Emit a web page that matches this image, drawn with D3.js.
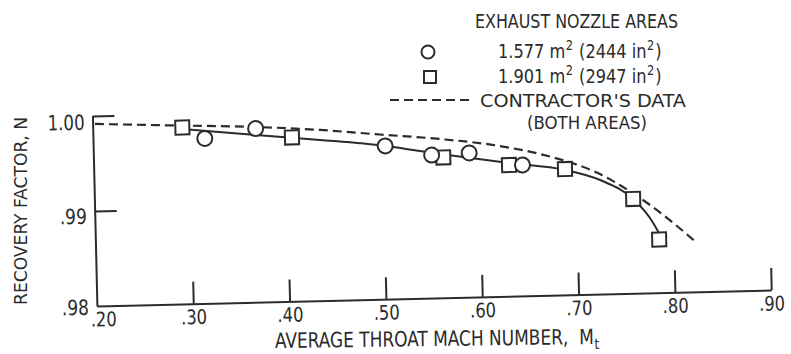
<!DOCTYPE html>
<html>
<head>
<meta charset="utf-8">
<script src="https://cdn.jsdelivr.net/npm/d3@7"></script>
<style>
  html, body { margin: 0; padding: 0; background: #ffffff; }
  svg { display: block; }
  text { font-family: "Liberation Sans Narrow", "DejaVu Sans Condensed", "Roboto Condensed", sans-serif; fill: #2b2b2b; }
</style>
</head>
<body>
<svg id="chart" width="791" height="354"></svg>
<script>
// Recovery factor vs. average throat Mach number
const xTicks = [0.20, 0.30, 0.40, 0.50, 0.60, 0.70, 0.80, 0.90];
const yTicks = [0.98, 0.99, 1.00];

// 1.577 m^2 nozzle (circles)
const circleMach = [0.316, 0.369, 0.503, 0.551, 0.590, 0.645];
const circleN    = [0.99736, 0.99828, 0.99613, 0.99505, 0.99518, 0.99378];

// 1.901 m^2 nozzle (squares)
const squareMach = [0.293, 0.4065, 0.563, 0.631, 0.689, 0.759, 0.785];
const squareN    = [0.99857, 0.99725, 0.99477, 0.99381, 0.99325, 0.98993, 0.98560];

// Faired curve through both nozzle data sets
const fairMach = [0.2926, 0.3692, 0.4355, 0.5028, 0.5597, 0.6311, 0.6890, 0.7251, 0.7590, 0.7760, 0.7850];
const fairN    = [0.99842, 0.99760, 0.99692, 0.99613, 0.99515, 0.99402, 0.99315, 0.99201, 0.98993, 0.98788, 0.98628];

// Contractor's data (both areas)
const contrMach = [0.2024, 0.2854, 0.3694, 0.4358, 0.4979, 0.5600, 0.6222, 0.6635, 0.6965, 0.7252, 0.7488, 0.7764, 0.8242];
const contrN    = [0.99916, 0.99880, 0.99844, 0.99797, 0.99734, 0.99672, 0.99583, 0.99489, 0.99386, 0.99264, 0.99121, 0.98925, 0.98514];

const ink = "#2b2b2b";
const svg = d3.select("#chart");

const x = d3.scaleLinear().domain([0.20, 0.90]).range([94.5, 769]);
const y = d3.scaleLinear().domain([0.98, 1.00]).range([298, 108]);

const fmt = v => d3.format(".2f")(v).replace(/^0\./, ".");

// plot body is drawn slightly tilted, as on the printed sheet
const g = svg.append("g").attr("transform", "rotate(-1.35, 434, 200)");

// x axis: ticks point up into the plot, labels underneath
const xAxis = d3.axisBottom(x).tickValues(xTicks).tickFormat(fmt)
  .tickSize(-22).tickSizeOuter(0).tickPadding(6);
const gx = g.append("g").attr("transform", `translate(0,${y(0.98)})`).call(xAxis);
gx.select(".domain").attr("stroke", ink).attr("stroke-width", 2);
gx.selectAll(".tick line").attr("stroke", ink).attr("stroke-width", 2)
  .filter(d => d === 0.20).remove();
gx.selectAll(".tick text").attr("font-size", 20).attr("fill", ink)
  .attr("dy", "0.72em")
  .attr("dx", d => d === 0.20 ? 6 : 0)
  .attr("textLength", 26).attr("lengthAdjust", "spacingAndGlyphs");

// y axis: ticks point right into the plot
const yAxis = d3.axisLeft(y).tickValues(yTicks).tickFormat(fmt)
  .tickSize(-22).tickSizeOuter(0).tickPadding(8);
const gy = g.append("g").attr("transform", `translate(${x(0.20)},0)`).call(yAxis);
gy.select(".domain").attr("stroke", ink).attr("stroke-width", 2);
gy.selectAll(".tick line").attr("stroke", ink).attr("stroke-width", 2)
  .filter(d => d === 0.98).remove();
gy.selectAll(".tick text").attr("font-size", 21).attr("fill", ink)
  .attr("dy", d => d === 0.98 ? 8 : (d === 1.00 ? 13 : 12))
  .attr("textLength", d => d === 1.00 ? 37 : 27)
  .attr("lengthAdjust", "spacingAndGlyphs");

// contractor's curve (dashed)
const line = d3.line().x(d => x(d[0])).y(d => y(d[1])).curve(d3.curveMonotoneX);
g.append("path")
  .datum(contrMach.map((m, i) => [m, contrN[i]]))
  .attr("d", line)
  .attr("fill", "none").attr("stroke", ink).attr("stroke-width", 2.2)
  .attr("stroke-dasharray", "9,5");

// faired curve (solid)
g.append("path")
  .datum(fairMach.map((m, i) => [m, fairN[i]]))
  .attr("d", line)
  .attr("fill", "none").attr("stroke", ink).attr("stroke-width", 2);

// squares
const sq = 14;
g.append("g").selectAll("rect")
  .data(squareMach.map((m, i) => [m, squareN[i]]))
  .join("rect")
  .attr("x", d => x(d[0]) - sq / 2).attr("y", d => y(d[1]) - sq / 2)
  .attr("width", sq).attr("height", sq)
  .attr("fill", "#ffffff").attr("stroke", ink).attr("stroke-width", 2);

// circles
g.append("g").selectAll("circle")
  .data(circleMach.map((m, i) => [m, circleN[i]]))
  .join("circle")
  .attr("cx", d => x(d[0])).attr("cy", d => y(d[1])).attr("r", 7.5)
  .attr("fill", "#ffffff").attr("stroke", ink).attr("stroke-width", 2);

// Lays out a run of text pieces (with optional super/subscripts) side by side,
// then squeezes the run horizontally to the requested width.
function richText(parent, x0, y0, parts, width, size) {
  const grp = parent.append("g");
  let cx = 0;
  parts.forEach(p => {
    const small = p.sup || p.sub;
    const t = grp.append("text")
      .attr("x", cx)
      .attr("y", p.sup ? -8 : (p.sub ? 5 : 0))
      .attr("font-size", small ? size * 0.7 : size)
      .text(p.s);
    cx += t.node().getComputedTextLength() + (small ? 1 : 0.5);
  });
  const sx = width / cx;
  grp.attr("transform", `translate(${x0},${y0}) scale(${sx},1)`);
  return grp;
}

// axis titles
svg.append("text")
  .attr("transform", "translate(27,211) rotate(-90)")
  .attr("text-anchor", "middle")
  .attr("font-size", 18)
  .attr("textLength", 188).attr("lengthAdjust", "spacingAndGlyphs")
  .text("RECOVERY FACTOR, N");

const xTitle = svg.append("g").attr("transform", "rotate(-0.7, 436, 345)");
richText(xTitle, 275, 346, [
  { s: "AVERAGE THROAT MACH NUMBER,\u00a0\u00a0M" },
  { s: "t", sub: true }
], 325, 21);

// legend
const lg = svg.append("g");
lg.append("text").attr("x", 475).attr("y", 28).attr("font-size", 20)
  .attr("textLength", 203).attr("lengthAdjust", "spacingAndGlyphs")
  .text("EXHAUST NOZZLE AREAS");

lg.append("circle").attr("cx", 428).attr("cy", 52).attr("r", 6.5)
  .attr("fill", "#fff").attr("stroke", ink).attr("stroke-width", 2);
lg.append("rect").attr("x", 424).attr("y", 71).attr("width", 12).attr("height", 12)
  .attr("fill", "#fff").attr("stroke", ink).attr("stroke-width", 2);
lg.append("line").attr("x1", 390).attr("x2", 470).attr("y1", 100).attr("y2", 100)
  .attr("stroke", ink).attr("stroke-width", 2).attr("stroke-dasharray", "9,5");

const areaRows = [
  { y: 58, metric: "1.577", imperial: "2444" },
  { y: 83, metric: "1.901", imperial: "2947" }
];
areaRows.forEach(r => {
  richText(lg, 498, r.y, [
    { s: r.metric + "\u00a0m" }, { s: "2", sup: true },
    { s: "\u00a0(" + r.imperial + "\u00a0in" }, { s: "2", sup: true },
    { s: ")" }
  ], 164, 20);
});

lg.append("text").attr("x", 480).attr("y", 107).attr("font-size", 18)
  .attr("textLength", 206).attr("lengthAdjust", "spacingAndGlyphs")
  .text("CONTRACTOR'S DATA");
lg.append("text").attr("x", 527).attr("y", 129).attr("font-size", 18)
  .attr("textLength", 120).attr("lengthAdjust", "spacingAndGlyphs")
  .text("(BOTH AREAS)");
</script>
</body>
</html>
